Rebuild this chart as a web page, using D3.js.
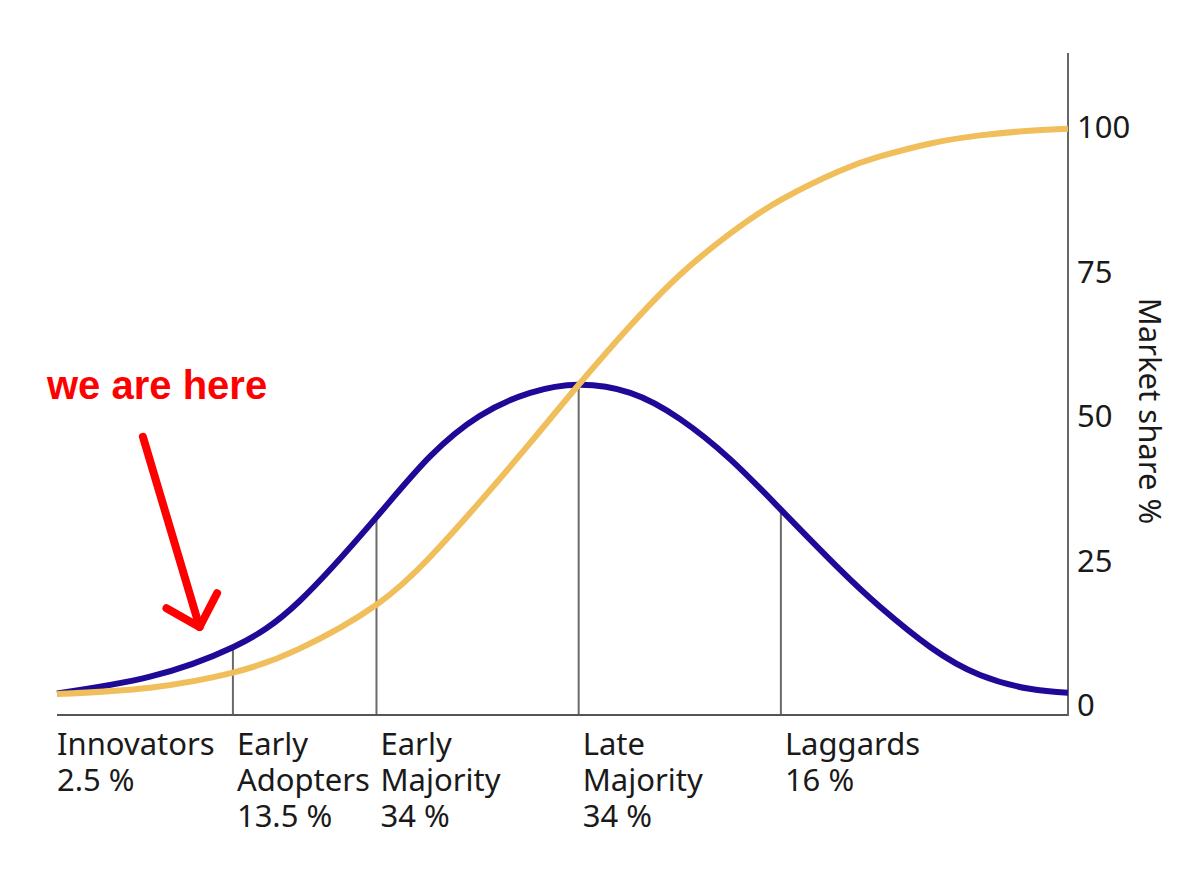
<!DOCTYPE html>
<html><head><meta charset="utf-8">
<script src="https://cdn.jsdelivr.net/npm/d3@7"></script>
<style>body{margin:0;background:#fff}svg{display:block}</style>
</head><body><svg id="c" width="1200" height="871"></svg>
<script>
// time axis (0..100) sample positions
const timeX   = [0, 9.2, 17.4, 24.0, 31.6, 36.9, 41.8, 46.8, 51.6, 56.7, 61.6, 66.6, 71.6, 77.4, 81.4, 86.4, 91.3, 96.2, 100];
// bell curve: adopters per period (market share scale)
const adoption = [2.0, 4.9, 10.0, 18.0, 32.5, 43.0, 50.0, 54.0, 55.4, 54.0, 49.5, 42.5, 33.8, 23.5, 17.0, 10.0, 5.2, 2.8, 2.1];
// S curve: cumulative market share %
const marketShare = [1.9, 3.0, 5.6, 9.75, 17.35, 25.6, 35.1, 45.35, 55.4, 65.6, 74.4, 81.6, 87.4, 92.4, 94.9, 97.15, 98.55, 99.35, 99.7];
// category boundaries (time units)
const dividers = [17.4, 31.6, 51.6, 71.6];
const categoryStart = [0, 17.4, 31.6, 51.6, 71.6];
const categoryNames = [["Innovators"], ["Early", "Adopters"], ["Early", "Majority"], ["Late", "Majority"], ["Laggards"]];
const categoryShares = ["2.5 %", "13.5 %", "34 %", "34 %", "16 %"];
const yTicks = [0, 25, 50, 75, 100];
const yTitle = "Market share %";
const annotationText = "we are here";
const arrowTail = [8.5, 46.4];
const arrowTip = [14.1, 13.5];

const svg = d3.select("#c");
const x = d3.scaleLinear().domain([0, 100]).range([57, 1068]);
const y = d3.scaleLinear().domain([0, 100]).range([705, 127]);
const baseY = 715;
const font = "'Noto Sans', 'Open Sans', sans-serif";
const fs = 31;

// dividers up to the bell curve
const interp = t => {
  const i = d3.bisectRight(timeX, t) - 1;
  if (i >= timeX.length - 1) return adoption[adoption.length - 1];
  const f = (t - timeX[i]) / (timeX[i+1] - timeX[i]);
  return adoption[i] + f * (adoption[i+1] - adoption[i]);
};
svg.append("g").selectAll("line").data(dividers).join("line")
  .attr("x1", d => x(d)).attr("x2", d => x(d))
  .attr("y1", baseY).attr("y2", d => y(interp(d)))
  .attr("stroke", "#6a6a6a").attr("stroke-width", 2);

// axes frame
svg.append("line").attr("x1", x(0)).attr("x2", x(100)).attr("y1", baseY).attr("y2", baseY)
  .attr("stroke", "#555").attr("stroke-width", 2);
svg.append("line").attr("x1", x(100)).attr("x2", x(100)).attr("y1", 53).attr("y2", baseY + 1)
  .attr("stroke", "#666").attr("stroke-width", 2);

// y tick labels
svg.append("g").selectAll("text").data(yTicks).join("text")
  .attr("x", x(100) + 9).attr("y", d => y(d)).attr("dy", "0.36em")
  .attr("font-family", font).attr("font-size", fs).attr("fill", "#1a1a1a")
  .text(d => d);

svg.append("text").attr("transform", "translate(1139,411) rotate(90)")
  .attr("text-anchor", "middle").attr("font-family", font).attr("font-size", fs).attr("fill", "#1a1a1a")
  .text(yTitle);

// curves
const line = d3.line().x(d => x(d[0])).y(d => y(d[1])).curve(d3.curveNatural);
svg.append("path").datum(timeX.map((t, i) => [t, adoption[i]]))
  .attr("d", line).attr("fill", "none").attr("stroke", "#1f0a98").attr("stroke-width", 6);
svg.append("path").datum(timeX.map((t, i) => [t, marketShare[i]]))
  .attr("d", line).attr("fill", "none").attr("stroke", "#f0bf5c").attr("stroke-width", 6);

// category labels (one text per line)
categoryNames.forEach((lines, i) => {
  const all = lines.concat([categoryShares[i]]);
  all.forEach((s, j) => {
    svg.append("text").attr("font-family", font).attr("font-size", fs).attr("fill", "#1a1a1a")
      .attr("x", x(categoryStart[i]) + (i === 0 ? 0 : 4)).attr("y", 755 + j * 36).text(s);
  });
});

// annotation
svg.append("text").attr("x", 47).attr("y", 399)
  .attr("font-family", "'Liberation Sans', Arial, sans-serif").attr("font-weight", "bold")
  .attr("font-size", 40).attr("fill", "#ff0000").text(annotationText);
const tx = x(arrowTail[0]), ty = y(arrowTail[1]), hx = x(arrowTip[0]), hy = y(arrowTip[1]);
const back = Math.atan2(ty - hy, tx - hx), armLen = 38, spread = 44 * Math.PI / 180;
const arrowPts = [[tx, ty], [hx, hy]];
const armA = [hx + armLen * Math.cos(back - spread), hy + armLen * Math.sin(back - spread)];
const armB = [hx + armLen * Math.cos(back + spread), hy + armLen * Math.sin(back + spread)];
const ag = svg.append("g").attr("stroke", "#ff0000").attr("stroke-width", 8).attr("stroke-linecap", "round").attr("stroke-linejoin", "round").attr("fill", "none");
ag.append("path").attr("d", d3.line()(arrowPts));
ag.append("path").attr("d", d3.line()([armA, [hx, hy], armB]));
</script></body></html>
